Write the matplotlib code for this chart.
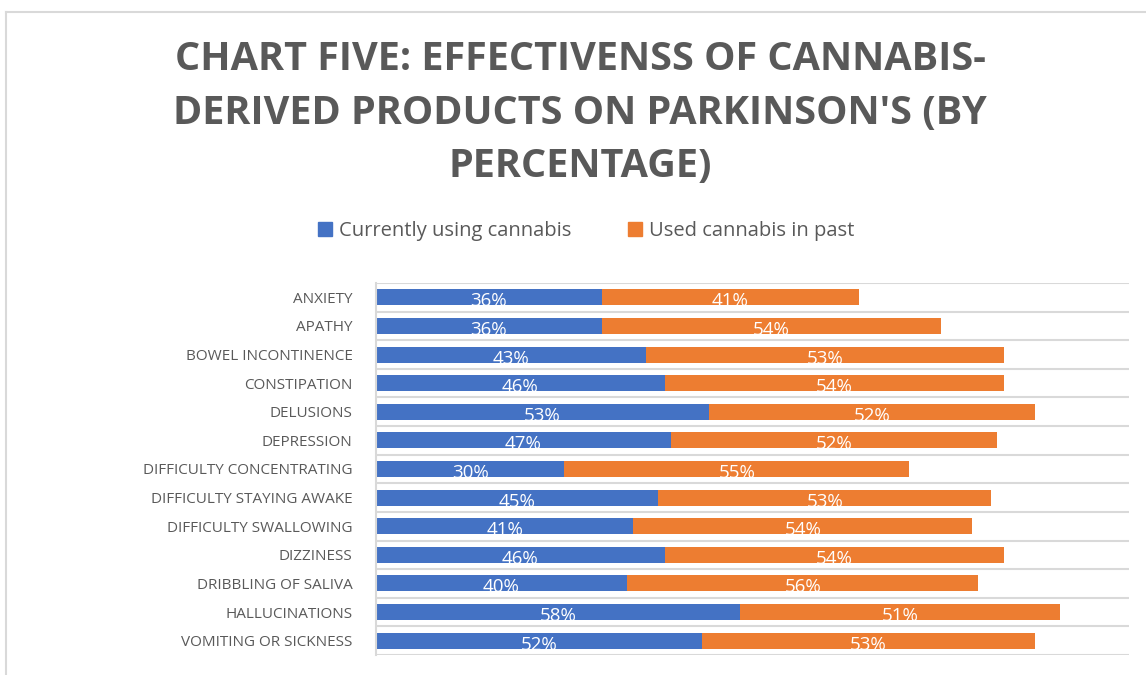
import matplotlib
matplotlib.use("Agg")
import matplotlib.pyplot as plt
from matplotlib.lines import Line2D
from matplotlib.patches import Patch

categories = ["ANXIETY", "APATHY", "BOWEL INCONTINENCE", "CONSTIPATION", "DELUSIONS",
              "DEPRESSION", "DIFFICULTY CONCENTRATING", "DIFFICULTY STAYING AWAKE",
              "DIFFICULTY SWALLOWING", "DIZZINESS", "DRIBBLING OF SALIVA",
              "HALLUCINATIONS", "VOMITING OR SICKNESS"]
current = [36, 36, 43, 46, 53, 47, 30, 45, 41, 46, 40, 58, 52]
past = [41, 54, 57, 54, 52, 52, 55, 53, 54, 54, 56, 51, 53]
current_labels = ["36%", "36%", "43%", "46%", "53%", "47%", "30%", "45%", "41%", "46%", "40%", "58%", "52%"]
past_labels = ["41%", "54%", "53%", "54%", "52%", "52%", "55%", "53%", "54%", "54%", "56%", "51%", "53%"]
series_names = ["Currently using cannabis", "Used cannabis in past"]
title = "CHART FIVE: EFFECTIVENSS OF CANNABIS-\nDERIVED PRODUCTS ON PARKINSON'S (BY\nPERCENTAGE)"

BLUE = "#4472C4"
ORANGE = "#ED7D31"
GRAY = "#595959"

plt.rcParams['font.family'] = ['Open Sans', 'DejaVu Sans']

fig = plt.figure(figsize=(11.46, 6.75), dpi=100)
ax = fig.add_axes([376/1146, 1-655/675, (1129-376)/1146, (655-283)/675])

n = len(categories)
ypos = list(range(n))
h = 0.56
ax.barh(ypos, current, height=h, color=BLUE, label=series_names[0])
ax.barh(ypos, past, left=current, height=h, color=ORANGE, label=series_names[1])

for i, (c, p) in enumerate(zip(current, past)):
    ax.text(c/2, i + 0.14, current_labels[i], ha='center', va='center', color='white', fontsize=13.5)
    ax.text(c + p/2, i + 0.14, past_labels[i], ha='center', va='center', color='white', fontsize=13.5)

ax.set_xlim(0, 120)
ax.set_ylim(n - 0.5, -0.5)
ax.set_yticks(ypos)
ax.set_yticklabels(categories, fontsize=11, color=GRAY)
ax.tick_params(axis='y', length=0, pad=17)
ax.set_xticks([])
for y in [k - 0.5 for k in range(n + 1)]:
    ax.axhline(y, color="#D9D9D9", lw=1.5, zorder=0)
for s in ['top', 'right', 'bottom']:
    ax.spines[s].set_visible(False)
ax.spines['left'].set_color("#D9D9D9")
ax.spines['left'].set_linewidth(1.5)

fig.text(580/1146, 1-113/675, title, ha='center', va='center', fontsize=28.5,
         fontweight='bold', color=GRAY, linespacing=1.48)

handles = [Patch(color=BLUE), Patch(color=ORANGE)]
fig.legend(handles, series_names, loc='center', bbox_to_anchor=(586/1146, 1-231/675),
           ncol=2, frameon=False, fontsize=14.5, handlelength=0.7, handleheight=0.7,
           handletextpad=0.35, columnspacing=2.8, labelcolor=GRAY)

fig.add_artist(Line2D([6/1146, 6/1146], [0, 1-12/675], color="#D9D9D9", lw=1.5, transform=fig.transFigure))
fig.add_artist(Line2D([6/1146, 1], [1-12/675, 1-12/675], color="#D9D9D9", lw=1.5, transform=fig.transFigure))

fig.savefig("out.png", dpi=100)
